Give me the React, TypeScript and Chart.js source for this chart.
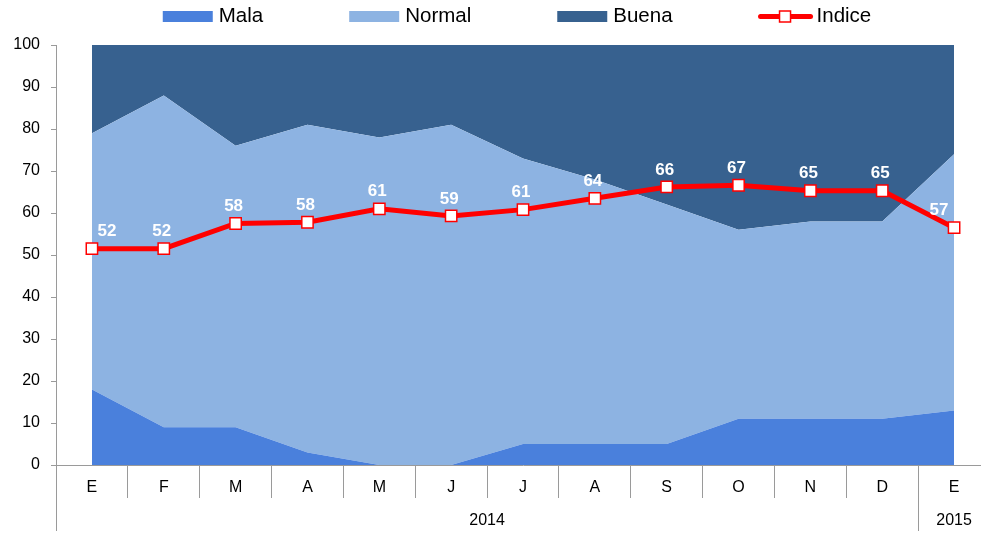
import React, { useEffect, useRef } from "react";
import { Chart, registerables } from "chart.js";

Chart.register(...registerables);

const categories = ["E", "F", "M", "A", "M", "J", "J", "A", "S", "O", "N", "D", "E"];
const yearLabels = ["2014", "2015"];
const yearSpans = [12, 1];

const mala = [18, 9, 9, 3, 0, 0, 5, 5, 5, 11, 11, 11, 13];
const normal = [61, 79, 67, 78, 78, 81, 68, 63, 57, 45, 47, 47, 61];
const buena = [21, 12, 24, 19, 22, 19, 27, 32, 38, 44, 42, 42, 26];
const indice = [51.5, 51.5, 57.5, 57.8, 61, 59.3, 60.8, 63.5, 66.2, 66.6, 65.3, 65.3, 56.5];
const indiceLabels = ["52", "52", "58", "58", "61", "59", "61", "64", "66", "67", "65", "65", "57"];

const yTicks = [0, 10, 20, 30, 40, 50, 60, 70, 80, 90, 100];

const C_MALA = "#4a80dc";
const C_NORMAL = "#8db3e2";
const C_BUENA = "#37618f";
const C_RED = "#ff0000";
const AXIS = "#9a9a9a";
const FONT = "'Liberation Sans', Arial, sans-serif";

const labelsPlugin = {
  id: "indiceLabels",
  afterDraw(chart: any) {
    const ctx = chart.ctx;
    const meta = chart.getDatasetMeta(3);
    const n = meta.data.length;
    ctx.save();
    ctx.fillStyle = "#ffffff";
    ctx.font = `bold 17px ${FONT}`;
    ctx.textAlign = "center";
    ctx.textBaseline = "middle";
    meta.data.forEach((pt: any, i: number) => {
      let dx = -2;
      if (i === 0) dx = 15;
      if (i === n - 1) dx = -15;
      ctx.fillText(indiceLabels[i], pt.x + dx, pt.y - 17);
    });
    ctx.restore();
  },
};

const extrasPlugin = {
  id: "extras",
  afterDraw(chart: any) {
    const ctx = chart.ctx;
    const xs = chart.scales.x;
    const area = chart.chartArea;
    const catW = (xs.getPixelForValue(1) - xs.getPixelForValue(0));
    ctx.save();
    ctx.strokeStyle = AXIS;
    ctx.lineWidth = 1;
    ctx.fillStyle = "#000";
    ctx.font = `16px ${FONT}`;
    ctx.textAlign = "center";
    ctx.textBaseline = "middle";
    let start = 0;
    const bottomY = area.bottom + 66;
    const drawV = (x: number) => {
      ctx.beginPath();
      ctx.moveTo(Math.round(x) + 0.5, area.bottom);
      ctx.lineTo(Math.round(x) + 0.5, bottomY);
      ctx.stroke();
    };
    drawV(area.left);
    yearLabels.forEach((lab, i) => {
      const x0 = xs.getPixelForValue(start) - catW / 2;
      const x1 = xs.getPixelForValue(start + yearSpans[i] - 1) + catW / 2;
      ctx.fillText(lab, (x0 + x1) / 2, area.bottom + 56);
      if (i < yearLabels.length - 1) drawV(x1);
      start += yearSpans[i];
    });
    ctx.restore();

    // legend
    ctx.save();
    ctx.font = `20.5px ${FONT}`;
    ctx.textBaseline = "middle";
    ctx.textAlign = "left";
    const items = [
      { t: "Mala", c: C_MALA, line: false },
      { t: "Normal", c: C_NORMAL, line: false },
      { t: "Buena", c: C_BUENA, line: false },
      { t: "Indice", c: C_RED, line: true },
    ];
    const gap = 86;
    const widths = items.map((it) => (it.line ? 58 : 56) + ctx.measureText(it.t).width);
    const total = widths.reduce((a, b) => a + b, 0) + gap * (items.length - 1);
    let x = 517 - total / 2;
    const ly = 16.5;
    items.forEach((it, i) => {
      if (!it.line) {
        ctx.fillStyle = it.c;
        ctx.fillRect(x, ly - 5.5, 50, 11);
        ctx.fillStyle = "#000";
        ctx.fillText(it.t, x + 56, ly);
      } else {
        ctx.strokeStyle = C_RED;
        ctx.lineWidth = 5;
        ctx.lineCap = "round";
        ctx.beginPath();
        ctx.moveTo(x + 2, ly);
        ctx.lineTo(x + 52, ly);
        ctx.stroke();
        ctx.fillStyle = "#fff";
        ctx.lineWidth = 1.5;
        ctx.fillRect(x + 21, ly - 5.5, 11, 11);
        ctx.strokeRect(x + 21, ly - 5.5, 11, 11);
        ctx.fillStyle = "#000";
        ctx.fillText(it.t, x + 58, ly);
      }
      x += widths[i] + gap;
    });
    ctx.restore();
  },
};

export default function App() {
  const ref = useRef<HTMLCanvasElement | null>(null);
  useEffect(() => {
    document.body.style.margin = "0";
    document.body.style.overflow = "hidden";
    const chart = new Chart(ref.current as HTMLCanvasElement, {
      type: "line",
      data: {
        labels: categories,
        datasets: [
          {
            label: "Mala",
            data: mala,
            backgroundColor: C_MALA,
            borderWidth: 0,
            pointRadius: 0,
            fill: "origin",
            stack: "areas",
            order: 1,
            tension: 0,
          },
          {
            label: "Normal",
            data: normal,
            backgroundColor: C_NORMAL,
            borderWidth: 0,
            pointRadius: 0,
            fill: "-1",
            stack: "areas",
            order: 1,
            tension: 0,
          },
          {
            label: "Buena",
            data: buena,
            backgroundColor: C_BUENA,
            borderColor: C_BUENA,
            borderWidth: 0,
            pointRadius: 0,
            fill: "-1",
            stack: "areas",
            order: 1,
            tension: 0,
          },
          {
            label: "Indice",
            data: indice,
            borderColor: C_RED,
            backgroundColor: "#ffffff",
            borderWidth: 5,
            pointStyle: "rect",
            pointRadius: 8,
            pointBorderWidth: 1.5,
            pointBorderColor: C_RED,
            pointBackgroundColor: "#ffffff",
            fill: false,
            stack: "indice",
            order: 0,
            tension: 0,
          },
        ] as any,
      },
      options: {
        responsive: false,
        animation: false,
        events: [],
        layout: { padding: { top: 45, left: 0, right: 10, bottom: 0 } },
        plugins: {
          legend: { display: false },
          tooltip: { enabled: false },
        },
        scales: {
          x: {
            type: "category",
            offset: true,
            border: { display: true, color: AXIS, width: 1 },
            grid: {
              offset: true,
              drawOnChartArea: false,
              drawTicks: true,
              tickLength: 33,
              color: AXIS,
              lineWidth: 1,
            },
            ticks: {
              color: "#000",
              font: { family: FONT, size: 16 },
              padding: -20,
              maxRotation: 0,
              autoSkip: false,
            },
            afterFit: (s: any) => {
              s.height = 68;
            },
          },
          y: {
            stacked: true,
            min: 0,
            max: 100,
            afterBuildTicks: (s: any) => {
              s.ticks = yTicks.map((v) => ({ value: v }));
            },
            border: { display: true, color: AXIS, width: 1 },
            grid: {
              drawOnChartArea: false,
              drawTicks: true,
              tickLength: 5,
              color: AXIS,
            },
            ticks: {
              color: "#000",
              font: { family: FONT, size: 16 },
              padding: 11,
            },
            afterFit: (s: any) => {
              s.width = 56;
            },
          },
        },
      } as any,
      plugins: [labelsPlugin, extrasPlugin],
    });
    return () => chart.destroy();
  }, []);
  return (
    <div style={{ position: "fixed", left: 0, top: 0, width: 981, height: 533, overflow: "hidden", background: "#fff" }}>
      <canvas ref={ref} width={1000} height={533} style={{ width: 1000, height: 533, display: "block" }} />
    </div>
  );
}
